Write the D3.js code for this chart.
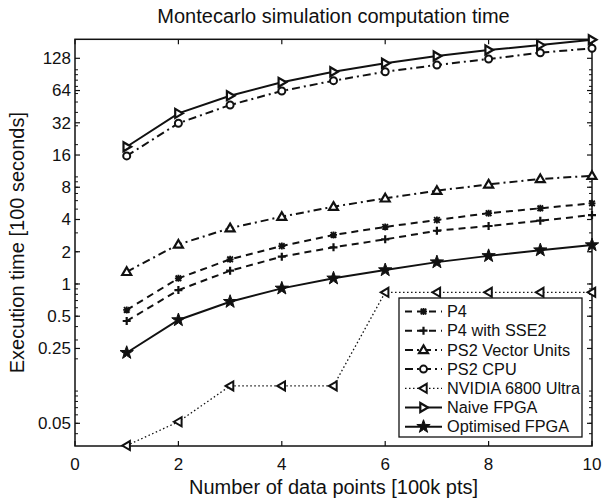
<!DOCTYPE html>
<html><head><meta charset="utf-8">
<script src="https://cdn.jsdelivr.net/npm/d3@7"></script>
<style>body{margin:0;background:#fff}svg{display:block}text{font-family:"Liberation Sans",Arial,Helvetica,sans-serif;fill:#111}</style>
</head><body>
<script>
const xs = [1,2,3,4,5,6,7,8,9,10];
const p4 = [0.572,1.13,1.70,2.26,2.87,3.41,3.96,4.58,5.09,5.66];
const p4sse2 = [0.451,0.877,1.33,1.80,2.20,2.61,3.14,3.48,3.90,4.40];
const ps2vu = [1.30,2.34,3.32,4.25,5.27,6.31,7.43,8.52,9.55,10.25];
const ps2cpu = [15.7,31.7,46.9,63.4,79.1,95.9,110.9,126.1,144.4,158.7];
const nvidia = [0.031,0.0517,0.1117,0.1117,0.1117,0.836,0.836,0.836,0.836,0.836];
const naive = [19.1,39.2,57.3,76.4,95.9,115,134.5,153,170,191];
const optim = [0.228,0.461,0.683,0.910,1.13,1.35,1.60,1.83,2.07,2.31];
const seriesNames = ["P4","P4 with SSE2","PS2 Vector Units","PS2 CPU","NVIDIA 6800 Ultra","Naive FPGA","Optimised FPGA"];
const xTicks = [0,2,4,6,8,10];
const yTicks = [0.05,0.25,0.5,1,2,4,8,16,32,64,128];
const yTickLabels = ["0.05","0.25","0.5","1","2","4","8","16","32","64","128"];
const title = "Montecarlo simulation computation time";
const xLabel = "Number of data points [100k pts]";
const yLabel = "Execution time [100 seconds]";

const W=603,H=499;
const svg=d3.select("body").append("svg").attr("width",W).attr("height",H);
const x=d3.scaleLinear().domain([0,10]).range([75,592]);
const y=d3.scaleLog().domain([0.0307,192.6]).range([446,39.3]);

const styles=[
 {data:p4,dash:"7,5",marker:"star6"},
 {data:p4sse2,dash:"7,5",marker:"plus"},
 {data:ps2vu,dash:"8,4,2,4",marker:"tri-up"},
 {data:ps2cpu,dash:"8,4,2,4",marker:"circle"},
 {data:nvidia,dash:"1.5,2.5",marker:"tri-left"},
 {data:naive,dash:null,marker:"tri-right"},
 {data:optim,dash:null,marker:"pent"}
];

const [x0,x1]=x.range(), [y0,y1]=y.range();
const g=svg.append("g");
const minor=[];
for(let e=-2;e<=2;e++)for(let d=1;d<=9;d++){const v=d*Math.pow(10,e);if(v>=0.0307&&v<=192.6)minor.push(v);}
g.selectAll(".myl").data(minor).join("line").attr("x1",x0).attr("x2",x0+3).attr("y1",d=>y(d)).attr("y2",d=>y(d)).attr("stroke","#111").attr("stroke-width",1);
g.selectAll(".myr").data(minor).join("line").attr("x1",x1).attr("x2",x1-3).attr("y1",d=>y(d)).attr("y2",d=>y(d)).attr("stroke","#111").attr("stroke-width",1);
g.selectAll(".yl").data(yTicks).join("line").attr("x1",x0).attr("x2",x0+5).attr("y1",d=>y(d)).attr("y2",d=>y(d)).attr("stroke","#111").attr("stroke-width",1.2);
g.selectAll(".yr").data(yTicks).join("line").attr("x1",x1).attr("x2",x1-5).attr("y1",d=>y(d)).attr("y2",d=>y(d)).attr("stroke","#111").attr("stroke-width",1.2);
g.selectAll(".ylab").data(yTicks).join("text").attr("x",x0-4).attr("y",d=>y(d)).attr("dy","0.35em").attr("text-anchor","end").attr("font-size",17).text((d,i)=>yTickLabels[i]);
g.selectAll(".xb").data(xTicks).join("line").attr("x1",d=>x(d)).attr("x2",d=>x(d)).attr("y1",y0).attr("y2",y0-5).attr("stroke","#111").attr("stroke-width",1.2);
g.selectAll(".xt").data(xTicks).join("line").attr("x1",d=>x(d)).attr("x2",d=>x(d)).attr("y1",y1).attr("y2",y1+5).attr("stroke","#111").attr("stroke-width",1.2);
g.selectAll(".xlab").data(xTicks).join("text").attr("x",d=>x(d)).attr("y",y0+24).attr("text-anchor","middle").attr("font-size",17).text(d=>d);
g.append("rect").attr("x",x0).attr("y",y1).attr("width",x1-x0).attr("height",y0-y1).attr("fill","none").attr("stroke","#111").attr("stroke-width",1.5);

svg.append("text").attr("x",(x0+x1)/2).attr("y",23).attr("text-anchor","middle").attr("font-size",20).text(title);
svg.append("text").attr("x",(x0+x1)/2).attr("y",494).attr("text-anchor","middle").attr("font-size",20).text(xLabel);
svg.append("text").attr("transform",`translate(24,${(y0+y1)/2}) rotate(-90)`).attr("text-anchor","middle").attr("font-size",20).text(yLabel);

function marker(sel,type){
  const st="#111";
  if(type==="star6"){
    sel.append("path").attr("d","M-3.5,0H3.5M0,-3.5V3.5M-2.8,-2.8L2.8,2.8M-2.8,2.8L2.8,-2.8").attr("stroke",st).attr("stroke-width",1.8).attr("fill","none");
  }else if(type==="plus"){
    sel.append("path").attr("d","M-4,0H4M0,-4V4").attr("stroke",st).attr("stroke-width",2.2).attr("fill","none");
  }else if(type==="tri-up"){
    sel.append("path").attr("d","M0,-4.5L4.5,3.2L-4.5,3.2Z").attr("stroke",st).attr("stroke-width",2.2).attr("fill","#fff");
  }else if(type==="circle"){
    sel.append("circle").attr("r",3.5).attr("stroke",st).attr("stroke-width",2).attr("fill","#fff");
  }else if(type==="tri-left"){
    sel.append("path").attr("d","M-4.5,0L3.2,-4.5L3.2,4.5Z").attr("stroke",st).attr("stroke-width",2).attr("fill","#fff");
  }else if(type==="tri-right"){
    sel.append("path").attr("d","M4.5,0L-3.2,-4.5L-3.2,4.5Z").attr("stroke",st).attr("stroke-width",2.2).attr("fill","#fff");
  }else if(type==="pent"){
    const pts=[];for(let k=0;k<10;k++){const r=k%2?2.8:7;const a=-Math.PI/2+k*Math.PI/5;pts.push([r*Math.cos(a),r*Math.sin(a)]);}
    sel.append("path").attr("d","M"+pts.map(p=>p.join(",")).join("L")+"Z").attr("fill","#111").attr("stroke",st).attr("stroke-width",1);
  }
}

const line=d3.line().x((d,i)=>x(xs[i])).y(d=>y(d));
const plot=svg.append("g");
styles.forEach(s=>{
  plot.append("path").datum(s.data).attr("d",line).attr("fill","none").attr("stroke","#111").attr("stroke-width",s.dash==="1.5,2.5"?1.3:2).attr("stroke-dasharray",s.dash);
  s.data.forEach((v,i)=>{marker(plot.append("g").attr("transform",`translate(${x(xs[i])},${y(v)})`),s.marker);});
});

const lg=svg.append("g");
lg.append("rect").attr("x",399).attr("y",298).attr("width",183).attr("height",139).attr("fill","#fff").attr("stroke","#111").attr("stroke-width",1.3);
seriesNames.forEach((n,i)=>{
  const cy=311.5+i*19.2;
  const s=styles[i];
  lg.append("line").attr("x1",405).attr("x2",442).attr("y1",cy).attr("y2",cy).attr("stroke","#111").attr("stroke-width",s.dash==="1.5,2.5"?1.3:2).attr("stroke-dasharray",s.dash);
  marker(lg.append("g").attr("transform",`translate(423.5,${cy})`),s.marker);
  lg.append("text").attr("x",447).attr("y",cy).attr("dy","0.35em").attr("font-size",16.3).text(n);
});
</script>
</body></html>
